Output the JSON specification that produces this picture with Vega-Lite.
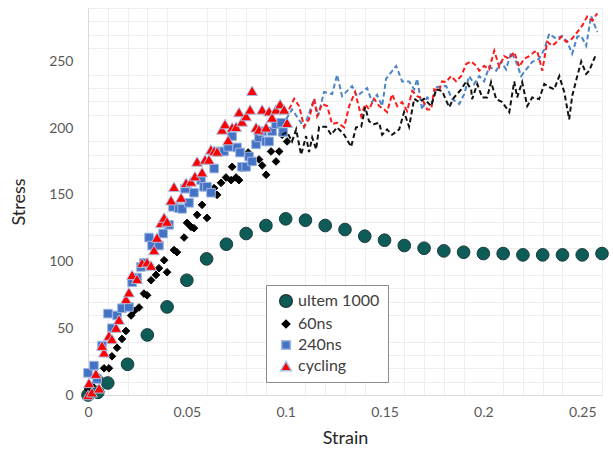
{
  "$schema": "https://vega.github.io/schema/vega-lite/v6.json",
  "width": 514,
  "height": 387,
  "autosize": "none",
  "padding": {"left": 88, "top": 8, "right": 11, "bottom": 58},
  "config": {
    "view": {"stroke": null},
    "font": "Lato",
    "axis": {
      "domainColor": "#d9d9d9",
      "ticks": false,
      "labelFont": "Lato",
      "labelFontSize": 14,
      "labelColor": "#595959",
      "titleFont": "Lato",
      "titleFontSize": 18,
      "titleFontWeight": "normal",
      "titleColor": "#262626"
    }
  },
  "resolve": {"axis": {"x": "independent", "y": "independent"}},
  "datasets": {
    "points": [
      {"s":"ultem 1000","x":0,"y":0},{"s":"ultem 1000","x":0.005,"y":2},{"s":"ultem 1000","x":0.01,"y":9},{"s":"ultem 1000","x":0.02,"y":23},{"s":"ultem 1000","x":0.03,"y":45},{"s":"ultem 1000","x":0.04,"y":66},{"s":"ultem 1000","x":0.05,"y":86},{"s":"ultem 1000","x":0.06,"y":102},{"s":"ultem 1000","x":0.07,"y":113},{"s":"ultem 1000","x":0.08,"y":121},{"s":"ultem 1000","x":0.09,"y":127},{"s":"ultem 1000","x":0.1,"y":132},{"s":"ultem 1000","x":0.11,"y":131},{"s":"ultem 1000","x":0.12,"y":127},{"s":"ultem 1000","x":0.13,"y":124},{"s":"ultem 1000","x":0.14,"y":119},{"s":"ultem 1000","x":0.15,"y":116},{"s":"ultem 1000","x":0.16,"y":112},{"s":"ultem 1000","x":0.17,"y":110},{"s":"ultem 1000","x":0.18,"y":108},{"s":"ultem 1000","x":0.19,"y":107},{"s":"ultem 1000","x":0.2,"y":106},{"s":"ultem 1000","x":0.21,"y":106},{"s":"ultem 1000","x":0.22,"y":105},{"s":"ultem 1000","x":0.23,"y":105},{"s":"ultem 1000","x":0.24,"y":105},{"s":"ultem 1000","x":0.25,"y":105},{"s":"ultem 1000","x":0.26,"y":106},
      {"s":"60ns","x":0.0005,"y":1},{"s":"60ns","x":0,"y":4.5},{"s":"60ns","x":0.002,"y":7},{"s":"60ns","x":0.0056,"y":13},{"s":"60ns","x":0.0081,"y":20},{"s":"60ns","x":0.0106,"y":20},{"s":"60ns","x":0.0121,"y":29},{"s":"60ns","x":0.0147,"y":35.4},{"s":"60ns","x":0.0172,"y":42},{"s":"60ns","x":0.0192,"y":48},{"s":"60ns","x":0.0218,"y":59.6},{"s":"60ns","x":0.0233,"y":63},{"s":"60ns","x":0.0258,"y":65.6},{"s":"60ns","x":0.0283,"y":76},{"s":"60ns","x":0.0299,"y":74.7},{"s":"60ns","x":0.0319,"y":86},{"s":"60ns","x":0.0344,"y":90},{"s":"60ns","x":0.0359,"y":95},{"s":"60ns","x":0.0385,"y":101},{"s":"60ns","x":0.04,"y":92},{"s":"60ns","x":0.0435,"y":108.6},{"s":"60ns","x":0.045,"y":107},{"s":"60ns","x":0.0486,"y":118},{"s":"60ns","x":0.0501,"y":129},{"s":"60ns","x":0.0521,"y":126},{"s":"60ns","x":0.0536,"y":125},{"s":"60ns","x":0.0552,"y":135},{"s":"60ns","x":0.0577,"y":142.5},{"s":"60ns","x":0.0602,"y":132.7},{"s":"60ns","x":0.0638,"y":155},{"s":"60ns","x":0.0653,"y":150},{"s":"60ns","x":0.0673,"y":159},{"s":"60ns","x":0.0698,"y":163},{"s":"60ns","x":0.0724,"y":161},{"s":"60ns","x":0.0749,"y":163},{"s":"60ns","x":0.0764,"y":161},{"s":"60ns","x":0.0729,"y":171},{"s":"60ns","x":0.0779,"y":170},{"s":"60ns","x":0.081,"y":181.7},{"s":"60ns","x":0.083,"y":175},{"s":"60ns","x":0.0865,"y":176.5},{"s":"60ns","x":0.0881,"y":172},{"s":"60ns","x":0.0901,"y":165},{"s":"60ns","x":0.0926,"y":182.5},{"s":"60ns","x":0.0951,"y":175},{"s":"60ns","x":0.0967,"y":182.5},{"s":"60ns","x":0.0982,"y":195},{"s":"60ns","x":0.1007,"y":190},
      {"s":"240ns","x":0,"y":16.6},{"s":"240ns","x":0.003,"y":22},{"s":"240ns","x":0.0046,"y":12},{"s":"240ns","x":0.0071,"y":37},{"s":"240ns","x":0.0101,"y":61},{"s":"240ns","x":0.0121,"y":50},{"s":"240ns","x":0.0147,"y":59.6},{"s":"240ns","x":0.0172,"y":65},{"s":"240ns","x":0.0207,"y":66},{"s":"240ns","x":0.0223,"y":84.5},{"s":"240ns","x":0.0248,"y":88},{"s":"240ns","x":0.0268,"y":96},{"s":"240ns","x":0.0283,"y":99},{"s":"240ns","x":0.0309,"y":118},{"s":"240ns","x":0.0324,"y":112},{"s":"240ns","x":0.0359,"y":112},{"s":"240ns","x":0.038,"y":121},{"s":"240ns","x":0.041,"y":127.5},{"s":"240ns","x":0.043,"y":141},{"s":"240ns","x":0.046,"y":140},{"s":"240ns","x":0.0476,"y":139.5},{"s":"240ns","x":0.0491,"y":154.6},{"s":"240ns","x":0.0511,"y":144},{"s":"240ns","x":0.0536,"y":151.6},{"s":"240ns","x":0.0572,"y":161},{"s":"240ns","x":0.0587,"y":156},{"s":"240ns","x":0.0602,"y":156},{"s":"240ns","x":0.0622,"y":151.6},{"s":"240ns","x":0.0638,"y":169.7},{"s":"240ns","x":0.0663,"y":182.5},{"s":"240ns","x":0.0688,"y":182.5},{"s":"240ns","x":0.0709,"y":186},{"s":"240ns","x":0.0729,"y":194},{"s":"240ns","x":0.0754,"y":185.5},{"s":"240ns","x":0.0769,"y":181.7},{"s":"240ns","x":0.0779,"y":171},{"s":"240ns","x":0.08,"y":171},{"s":"240ns","x":0.0815,"y":178.7},{"s":"240ns","x":0.083,"y":175},{"s":"240ns","x":0.085,"y":187.8},{"s":"240ns","x":0.0865,"y":193},{"s":"240ns","x":0.0881,"y":197.6},{"s":"240ns","x":0.0901,"y":190},{"s":"240ns","x":0.0916,"y":190},{"s":"240ns","x":0.0931,"y":197.6},{"s":"240ns","x":0.0951,"y":203},{"s":"240ns","x":0.0977,"y":204},{"s":"240ns","x":0.0987,"y":197},
      {"s":"cycling","x":0,"y":0},{"s":"cycling","x":0.002,"y":2},{"s":"cycling","x":0.0056,"y":5},{"s":"cycling","x":0.0005,"y":9},{"s":"cycling","x":0.004,"y":16},{"s":"cycling","x":0.0081,"y":32},{"s":"cycling","x":0.0071,"y":37},{"s":"cycling","x":0.0106,"y":44.5},{"s":"cycling","x":0.0121,"y":42},{"s":"cycling","x":0.0142,"y":50.5},{"s":"cycling","x":0.0157,"y":56.5},{"s":"cycling","x":0.0192,"y":72},{"s":"cycling","x":0.0207,"y":77},{"s":"cycling","x":0.0223,"y":90},{"s":"cycling","x":0.0248,"y":87},{"s":"cycling","x":0.0273,"y":99},{"s":"cycling","x":0.0299,"y":99.5},{"s":"cycling","x":0.0319,"y":97},{"s":"cycling","x":0.0334,"y":108.6},{"s":"cycling","x":0.0349,"y":118},{"s":"cycling","x":0.0369,"y":129},{"s":"cycling","x":0.0385,"y":133},{"s":"cycling","x":0.04,"y":130},{"s":"cycling","x":0.042,"y":146},{"s":"cycling","x":0.0435,"y":156},{"s":"cycling","x":0.0471,"y":148},{"s":"cycling","x":0.0496,"y":159},{"s":"cycling","x":0.0521,"y":160},{"s":"cycling","x":0.0541,"y":164},{"s":"cycling","x":0.0552,"y":175},{"s":"cycling","x":0.0577,"y":167},{"s":"cycling","x":0.0592,"y":176.5},{"s":"cycling","x":0.0612,"y":176.5},{"s":"cycling","x":0.0622,"y":184},{"s":"cycling","x":0.0638,"y":183},{"s":"cycling","x":0.0653,"y":182.5},{"s":"cycling","x":0.0678,"y":199},{"s":"cycling","x":0.0693,"y":203},{"s":"cycling","x":0.0709,"y":191},{"s":"cycling","x":0.0729,"y":200.6},{"s":"cycling","x":0.0749,"y":201},{"s":"cycling","x":0.0764,"y":212},{"s":"cycling","x":0.0779,"y":205},{"s":"cycling","x":0.08,"y":209},{"s":"cycling","x":0.082,"y":214},{"s":"cycling","x":0.083,"y":228},{"s":"cycling","x":0.085,"y":200.6},{"s":"cycling","x":0.0865,"y":199},{"s":"cycling","x":0.0881,"y":214},{"s":"cycling","x":0.0901,"y":200.6},{"s":"cycling","x":0.0916,"y":212.7},{"s":"cycling","x":0.0931,"y":208},{"s":"cycling","x":0.0951,"y":214},{"s":"cycling","x":0.0972,"y":218},{"s":"cycling","x":0.0992,"y":214},{"s":"cycling","x":0.1007,"y":204}
    ],
    "lines": [
      {"s":"240ns","x":0.1002,"y":206.6},{"s":"240ns","x":0.1032,"y":214},{"s":"240ns","x":0.1093,"y":200.6},{"s":"240ns","x":0.1144,"y":222},{"s":"240ns","x":0.1164,"y":209},{"s":"240ns","x":0.1194,"y":227},{"s":"240ns","x":0.1235,"y":225.5},{"s":"240ns","x":0.126,"y":240},{"s":"240ns","x":0.1285,"y":224},{"s":"240ns","x":0.1336,"y":231.5},{"s":"240ns","x":0.1361,"y":224},{"s":"240ns","x":0.1412,"y":230},{"s":"240ns","x":0.1437,"y":219.5},{"s":"240ns","x":0.1462,"y":225},{"s":"240ns","x":0.1488,"y":216.5},{"s":"240ns","x":0.1508,"y":237},{"s":"240ns","x":0.1559,"y":246.6},{"s":"240ns","x":0.1589,"y":235},{"s":"240ns","x":0.1624,"y":235},{"s":"240ns","x":0.165,"y":229},{"s":"240ns","x":0.1665,"y":237},{"s":"240ns","x":0.169,"y":214},{"s":"240ns","x":0.1716,"y":223},{"s":"240ns","x":0.1741,"y":219.5},{"s":"240ns","x":0.1766,"y":230.8},{"s":"240ns","x":0.1812,"y":231.5},{"s":"240ns","x":0.1842,"y":221.7},{"s":"240ns","x":0.1878,"y":218},{"s":"240ns","x":0.1903,"y":225.5},{"s":"240ns","x":0.1928,"y":239},{"s":"240ns","x":0.1953,"y":233},{"s":"240ns","x":0.1979,"y":239},{"s":"240ns","x":0.2004,"y":235},{"s":"240ns","x":0.2029,"y":246},{"s":"240ns","x":0.2065,"y":243},{"s":"240ns","x":0.209,"y":249.6},{"s":"240ns","x":0.2115,"y":244},{"s":"240ns","x":0.2141,"y":257},{"s":"240ns","x":0.2166,"y":249.6},{"s":"240ns","x":0.2191,"y":239},{"s":"240ns","x":0.2217,"y":244},{"s":"240ns","x":0.2247,"y":249.6},{"s":"240ns","x":0.2282,"y":252},{"s":"240ns","x":0.2308,"y":259},{"s":"240ns","x":0.2333,"y":270.7},{"s":"240ns","x":0.2368,"y":267},{"s":"240ns","x":0.2399,"y":269},{"s":"240ns","x":0.2424,"y":264.7},{"s":"240ns","x":0.2449,"y":255.7},{"s":"240ns","x":0.2475,"y":268.5},{"s":"240ns","x":0.2495,"y":269},{"s":"240ns","x":0.252,"y":261.7},{"s":"240ns","x":0.2545,"y":284},{"s":"240ns","x":0.2576,"y":272},
      {"s":"cycling","x":0.1017,"y":214},{"s":"cycling","x":0.1043,"y":222},{"s":"cycling","x":0.1068,"y":216.5},{"s":"cycling","x":0.1093,"y":201},{"s":"cycling","x":0.1118,"y":206.6},{"s":"cycling","x":0.1144,"y":222},{"s":"cycling","x":0.1159,"y":209},{"s":"cycling","x":0.1184,"y":218},{"s":"cycling","x":0.121,"y":216.5},{"s":"cycling","x":0.1235,"y":203},{"s":"cycling","x":0.126,"y":204},{"s":"cycling","x":0.1296,"y":200.6},{"s":"cycling","x":0.1321,"y":216.5},{"s":"cycling","x":0.1351,"y":227},{"s":"cycling","x":0.1382,"y":209},{"s":"cycling","x":0.1402,"y":218},{"s":"cycling","x":0.1422,"y":214},{"s":"cycling","x":0.1447,"y":222},{"s":"cycling","x":0.1473,"y":216.5},{"s":"cycling","x":0.1498,"y":214},{"s":"cycling","x":0.1513,"y":212},{"s":"cycling","x":0.1538,"y":225.5},{"s":"cycling","x":0.1564,"y":216.5},{"s":"cycling","x":0.1589,"y":219.5},{"s":"cycling","x":0.1614,"y":212.7},{"s":"cycling","x":0.164,"y":227.8},{"s":"cycling","x":0.1665,"y":224},{"s":"cycling","x":0.169,"y":222},{"s":"cycling","x":0.1716,"y":214},{"s":"cycling","x":0.1736,"y":214},{"s":"cycling","x":0.1751,"y":229},{"s":"cycling","x":0.1776,"y":227.8},{"s":"cycling","x":0.1791,"y":235},{"s":"cycling","x":0.1812,"y":234.5},{"s":"cycling","x":0.1837,"y":239},{"s":"cycling","x":0.1862,"y":235},{"s":"cycling","x":0.1888,"y":239},{"s":"cycling","x":0.1913,"y":248},{"s":"cycling","x":0.1938,"y":250},{"s":"cycling","x":0.1964,"y":246.6},{"s":"cycling","x":0.1979,"y":243},{"s":"cycling","x":0.2004,"y":246.6},{"s":"cycling","x":0.2029,"y":244},{"s":"cycling","x":0.2055,"y":258},{"s":"cycling","x":0.208,"y":246},{"s":"cycling","x":0.2105,"y":254},{"s":"cycling","x":0.2131,"y":252},{"s":"cycling","x":0.2156,"y":257},{"s":"cycling","x":0.2181,"y":246},{"s":"cycling","x":0.2206,"y":252},{"s":"cycling","x":0.2232,"y":254},{"s":"cycling","x":0.2257,"y":257},{"s":"cycling","x":0.2272,"y":258},{"s":"cycling","x":0.2298,"y":243},{"s":"cycling","x":0.2323,"y":264.7},{"s":"cycling","x":0.2348,"y":261.7},{"s":"cycling","x":0.2373,"y":264.7},{"s":"cycling","x":0.2394,"y":268.5},{"s":"cycling","x":0.2419,"y":264.7},{"s":"cycling","x":0.2449,"y":267},{"s":"cycling","x":0.2475,"y":272},{"s":"cycling","x":0.25,"y":276.8},{"s":"cycling","x":0.2525,"y":283.6},{"s":"cycling","x":0.2551,"y":280.5},{"s":"cycling","x":0.2576,"y":286},
      {"s":"60ns","x":0.0982,"y":195},{"s":"60ns","x":0.1007,"y":197},{"s":"60ns","x":0.1032,"y":190},{"s":"60ns","x":0.1053,"y":199},{"s":"60ns","x":0.1078,"y":180},{"s":"60ns","x":0.1103,"y":194},{"s":"60ns","x":0.1118,"y":182},{"s":"60ns","x":0.1134,"y":193},{"s":"60ns","x":0.1154,"y":184},{"s":"60ns","x":0.1169,"y":201},{"s":"60ns","x":0.1204,"y":201},{"s":"60ns","x":0.123,"y":195},{"s":"60ns","x":0.126,"y":200.6},{"s":"60ns","x":0.1296,"y":195},{"s":"60ns","x":0.1331,"y":186},{"s":"60ns","x":0.1356,"y":200.6},{"s":"60ns","x":0.1382,"y":201},{"s":"60ns","x":0.1402,"y":215.7},{"s":"60ns","x":0.1422,"y":205},{"s":"60ns","x":0.1447,"y":203},{"s":"60ns","x":0.1473,"y":204},{"s":"60ns","x":0.1488,"y":195},{"s":"60ns","x":0.1513,"y":199},{"s":"60ns","x":0.1538,"y":195},{"s":"60ns","x":0.1574,"y":199},{"s":"60ns","x":0.1599,"y":212},{"s":"60ns","x":0.1624,"y":201},{"s":"60ns","x":0.165,"y":222},{"s":"60ns","x":0.1675,"y":219.5},{"s":"60ns","x":0.17,"y":222},{"s":"60ns","x":0.1736,"y":216.5},{"s":"60ns","x":0.1761,"y":229},{"s":"60ns","x":0.1791,"y":227.8},{"s":"60ns","x":0.1827,"y":215.7},{"s":"60ns","x":0.1852,"y":223},{"s":"60ns","x":0.1888,"y":229},{"s":"60ns","x":0.1913,"y":235},{"s":"60ns","x":0.1938,"y":229},{"s":"60ns","x":0.1943,"y":221.7},{"s":"60ns","x":0.1969,"y":233},{"s":"60ns","x":0.1994,"y":223},{"s":"60ns","x":0.2019,"y":223},{"s":"60ns","x":0.2039,"y":234.5},{"s":"60ns","x":0.2065,"y":221.7},{"s":"60ns","x":0.2095,"y":219.5},{"s":"60ns","x":0.2131,"y":212},{"s":"60ns","x":0.2156,"y":235},{"s":"60ns","x":0.2171,"y":223},{"s":"60ns","x":0.2196,"y":234.5},{"s":"60ns","x":0.2222,"y":216.5},{"s":"60ns","x":0.2247,"y":223},{"s":"60ns","x":0.2282,"y":221.7},{"s":"60ns","x":0.2308,"y":233},{"s":"60ns","x":0.2333,"y":230.8},{"s":"60ns","x":0.2358,"y":229},{"s":"60ns","x":0.2384,"y":239},{"s":"60ns","x":0.2409,"y":227},{"s":"60ns","x":0.2434,"y":206.6},{"s":"60ns","x":0.2449,"y":224},{"s":"60ns","x":0.2475,"y":239},{"s":"60ns","x":0.2495,"y":250},{"s":"60ns","x":0.252,"y":240.6},{"s":"60ns","x":0.2535,"y":243},{"s":"60ns","x":0.2571,"y":255.7}
    ]
  },
  "layer": [
    {
      "data": {"name": "points"},
      "mark": {"type": "point", "filled": true, "strokeWidth": 1, "opacity": 1},
      "encoding": {
        "x": {
          "field": "x", "type": "quantitative",
          "scale": {"domain": [0, 0.26], "nice": false},
          "axis": {
            "orient": "bottom",
            "values": [0.01,0.02,0.03,0.04,0.06,0.07,0.08,0.09,0.11,0.12,0.13,0.14,0.16,0.17,0.18,0.19,0.21,0.22,0.23,0.24,0.26],
            "labels": false, "domain": false, "title": null, "gridColor": "#eeeeee"
          }
        },
        "y": {
          "field": "y", "type": "quantitative",
          "scale": {"domain": [0, 290], "nice": false},
          "axis": {
            "orient": "left",
            "values": [10,20,30,40,60,70,80,90,110,120,130,140,160,170,180,190,210,220,230,240,260,270,280,290],
            "labels": false, "domain": false, "title": null, "gridColor": "#eeeeee"
          }
        },
        "shape": {
          "field": "s", "type": "nominal",
          "scale": {"domain": ["ultem 1000", "60ns", "240ns", "cycling"], "range": ["circle", "diamond", "square", "triangle-up"]},
          "legend": {
            "title": null, "orient": "none", "legendX": 178, "legendY": 277,
            "strokeColor": "#8c8c8c", "fillColor": "#ffffff", "padding": 8,
            "labelFont": "Lato", "labelFontSize": 16, "labelColor": "#404040",
            "rowPadding": 5, "symbolOffset": 4, "labelOffset": 4
          }
        },
        "fill": {
          "field": "s", "type": "nominal",
          "scale": {"domain": ["ultem 1000", "60ns", "240ns", "cycling"], "range": ["#0e5c58", "#000000", "#4472c4", "#ff0000"]}
        },
        "stroke": {
          "field": "s", "type": "nominal",
          "scale": {"domain": ["ultem 1000", "60ns", "240ns", "cycling"], "range": ["#1d3b3b", "#000000", "#9fb6e0", "#a9c0e6"]}
        },
        "size": {
          "field": "s", "type": "nominal",
          "scale": {"type": "ordinal", "domain": ["ultem 1000", "60ns", "240ns", "cycling"], "range": [160, 58, 75, 120]}
        }
      }
    },
    {
      "data": {"name": "lines"},
      "mark": {"type": "line", "strokeDash": [5, 3], "strokeWidth": 2},
      "encoding": {
        "x": {
          "field": "x", "type": "quantitative", "title": "Strain",
          "axis": {
            "orient": "bottom",
            "values": [0, 0.05, 0.1, 0.15, 0.2, 0.25],
            "format": "~g",
            "gridColor": "#d9d9d9",
            "labelPadding": 10,
            "titlePadding": 10,
            "labelFlush": false
          }
        },
        "y": {
          "field": "y", "type": "quantitative", "title": "Stress",
          "axis": {
            "orient": "left",
            "values": [0, 50, 100, 150, 200, 250],
            "gridColor": "#d9d9d9",
            "labelPadding": 15,
            "titlePadding": 20,
            "labelFlush": false
          }
        },
        "color": {
          "field": "s", "type": "nominal", "legend": null,
          "scale": {"domain": ["60ns", "240ns", "cycling"], "range": ["#111111", "#4a86c8", "#ff1a1a"]}
        }
      }
    }
  ]
}
